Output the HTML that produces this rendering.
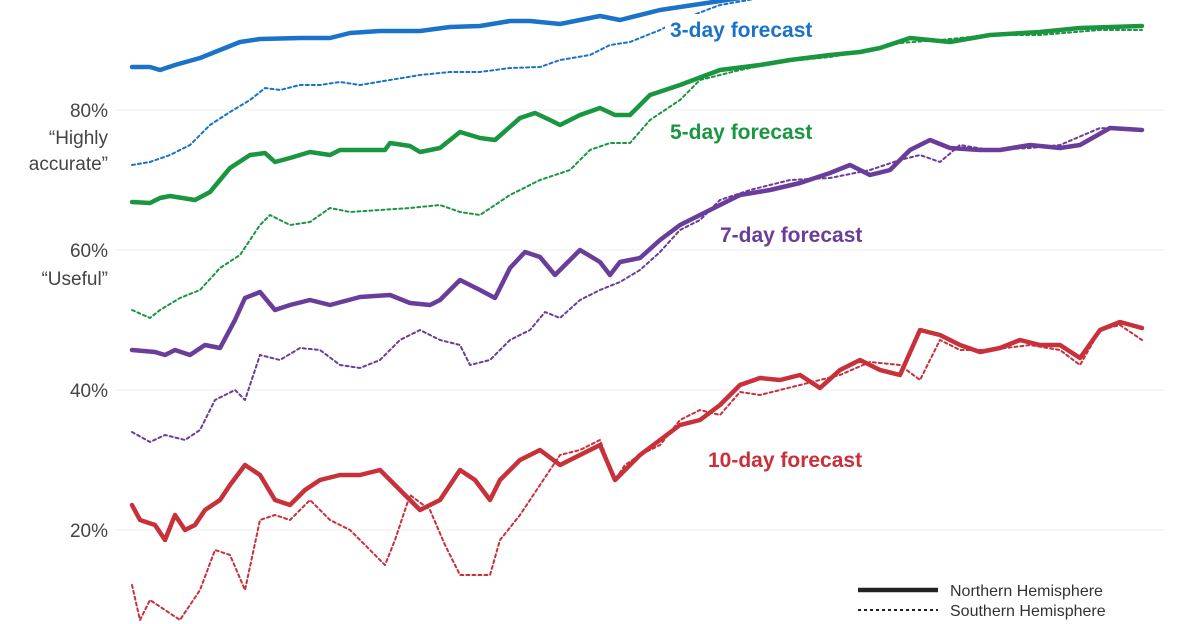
<!DOCTYPE html>
<html><head><meta charset="utf-8"><style>
body{margin:0;background:#fff}
svg{display:block;font-family:"Liberation Sans",sans-serif}
</style></head><body>
<svg width="1200" height="624" viewBox="0 0 1200 624">
<g stroke="#ececec" stroke-width="1">
<line x1="115" y1="110" x2="1165" y2="110"/><line x1="115" y1="250" x2="1165" y2="250"/>
<line x1="115" y1="390" x2="1165" y2="390"/><line x1="115" y1="530" x2="1165" y2="530"/>
</g>
<g fill="#444" font-size="19" text-anchor="end">
<text x="108" y="117">80%</text><text x="108" y="144">“Highly</text><text x="108" y="170">accurate”</text>
<text x="108" y="257">60%</text><text x="108" y="285">“Useful”</text>
<text x="108" y="397">40%</text><text x="108" y="537">20%</text>
</g>
<g fill="none" stroke-linejoin="round" stroke-linecap="round">
<polyline stroke="#1a73c8" stroke-width="2" stroke-dasharray="3 3" points="132,165 150,162 170,155 190,145 210,125 230,112 250,100 265,88 280,90 300,85 320,85 340,82 360,85 390,80 420,75 450,72 480,72 510,68 540,67 560,60 590,55 610,45 630,42 660,30 680,20 720,5 760,-2"/>
<polyline stroke="#1a73c8" stroke-width="4.5" points="132,67 150,67 160,70 175,65 200,58 225,48 240,42 260,39 300,38 330,38 350,33 380,31 420,31 450,27 480,26 510,21 530,21 560,24 600,16 620,20 660,10 700,4 740,-2"/>
<polyline stroke="#1a9641" stroke-width="2" stroke-dasharray="3 3" points="132,310 150,318 160,310 180,298 200,290 220,268 240,255 260,225 270,215 290,225 310,222 330,208 350,212 380,210 410,208 440,205 460,212 480,215 510,195 540,180 570,170 590,150 610,143 630,143 650,120 680,100 700,80 740,70 780,62 830,57 870,50 900,43 940,40 990,35 1040,35 1100,30 1142,30"/>
<polyline stroke="#1a9641" stroke-width="4.5" points="132,202 150,203 160,198 170,196 195,200 210,192 230,168 250,155 265,153 275,162 290,158 310,152 330,155 340,150 385,150 390,143 410,146 420,152 440,148 460,132 480,138 495,140 520,118 535,113 550,120 560,125 580,115 600,108 615,115 630,115 650,95 680,85 720,70 760,65 790,60 830,55 860,52 880,48 910,38 950,42 990,35 1040,32 1080,28 1142,26"/>
<polyline stroke="#6a3d9a" stroke-width="2" stroke-dasharray="3 3" points="132,432 150,442 165,435 185,440 200,430 215,400 235,390 245,400 260,355 280,360 300,348 320,350 340,365 360,368 380,360 400,340 420,330 440,340 460,345 470,365 490,360 510,340 530,330 545,312 560,318 580,300 600,290 620,282 640,270 660,252 680,230 700,220 720,200 750,190 790,180 830,178 870,170 900,160 920,155 940,162 960,145 990,150 1030,148 1060,145 1100,128 1142,130"/>
<polyline stroke="#6a3d9a" stroke-width="4.5" points="132,350 155,352 165,355 175,350 190,355 205,345 220,348 235,320 245,298 260,292 275,310 290,305 310,300 330,305 360,297 390,295 410,303 430,305 440,300 460,280 480,290 495,298 510,268 525,252 540,257 555,275 565,265 580,250 600,262 610,275 620,262 640,258 660,240 680,225 700,215 720,205 740,195 770,190 800,183 830,173 850,165 870,175 890,170 910,150 930,140 950,148 980,150 1000,150 1030,145 1060,148 1080,145 1110,128 1142,130"/>
<polyline stroke="#c8303a" stroke-width="2" stroke-dasharray="3 3" points="132,585 140,620 150,600 165,610 180,620 200,590 215,550 230,555 245,590 260,520 275,515 290,520 310,500 330,520 350,530 370,550 385,565 395,540 410,495 430,510 445,545 460,575 490,575 500,540 520,515 540,485 560,455 580,450 600,440 615,480 625,465 640,455 660,445 680,420 700,410 720,415 740,392 760,395 800,385 840,375 870,362 900,365 920,380 940,340 960,350 990,350 1030,345 1060,350 1080,365 1100,330 1120,325 1142,340"/>
<polyline stroke="#c8303a" stroke-width="4.5" points="132,505 140,520 155,525 165,540 175,515 185,530 195,525 205,510 220,500 230,485 245,465 260,475 275,500 290,505 305,490 320,480 340,475 360,475 380,470 400,490 420,510 440,500 460,470 475,480 490,500 500,480 520,460 540,450 560,465 580,455 600,445 615,480 625,470 640,455 660,440 680,425 700,420 720,405 740,385 760,378 780,380 800,375 820,388 840,370 860,360 880,370 900,375 920,330 940,335 960,345 980,352 1000,348 1020,340 1040,345 1060,345 1080,358 1100,330 1120,322 1142,328"/>
</g>
<g font-size="21" font-weight="bold">
<rect x="665" y="14" width="178" height="28" fill="#fff"/>
<text x="670" y="37" fill="#1a73c8">3-day forecast</text>
<text x="670" y="139" fill="#1a9641">5-day forecast</text>
<text x="720" y="242" fill="#6a3d9a">7-day forecast</text>
<text x="708" y="467" fill="#c8303a">10-day forecast</text>
</g>
<line x1="858" y1="590" x2="938" y2="590" stroke="#222" stroke-width="4.5"/>
<line x1="858" y1="610" x2="938" y2="610" stroke="#222" stroke-width="2" stroke-dasharray="3 3"/>
<g font-size="16" fill="#333"><text x="950" y="596">Northern Hemisphere</text><text x="950" y="616">Southern Hemisphere</text></g>
</svg>
</body></html>
